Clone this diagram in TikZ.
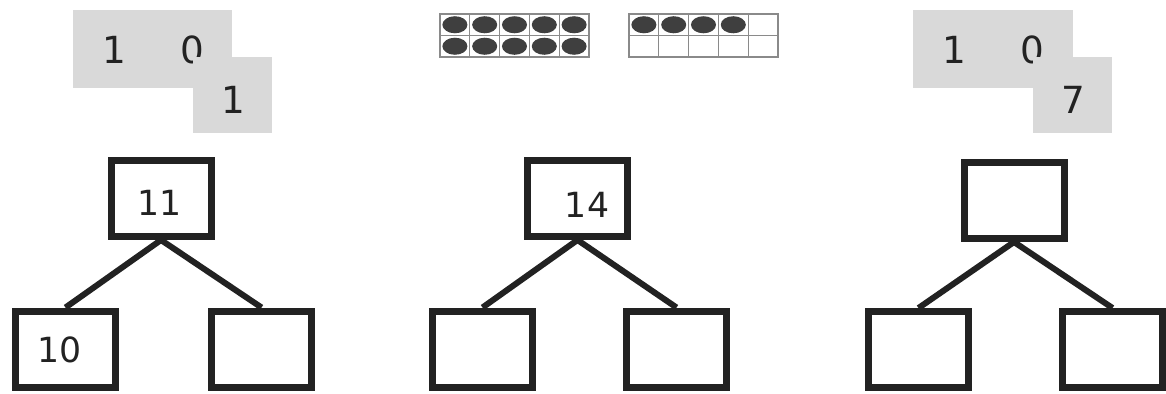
\documentclass[tikz,border=0pt]{standalone}
\usepackage{fontspec}
\setmainfont{DejaVu Sans}
\usepackage{tikz}

\definecolor{ink}{HTML}{222222}
\definecolor{chip}{HTML}{D9D9D9}
\definecolor{dotc}{HTML}{3F3F3F}
\definecolor{cellc}{HTML}{8A8A8A}

\begin{document}
\begin{tikzpicture}[x=0.75pt,y=-0.75pt,
  bondbox/.style={draw=ink,line width=5.25pt,fill=white,minimum width=75pt,minimum height=57pt,inner sep=0pt},
  bond/.style={draw=ink,line width=4.5pt},
  treenum/.style={text=ink,font=\fontsize{26}{26}\selectfont,inner sep=0pt},
  chipnum/.style={text=ink,font=\fontsize{28}{28}\selectfont,inner sep=0pt},
  cell/.style={draw=cellc,line width=0.8pt}]
\useasboundingbox (0,0) rectangle (1166,393);

% place value chips
\fill[chip] (73,10) rectangle (232,88);
\node[chipnum] (a1) at (114,50) {1};
\node[chipnum] (a0) at (192,50) {0};
\fill[chip] (193,57) rectangle (272,133);
\node[chipnum] (aone) at (233,100) {1};

\fill[chip] (913,10) rectangle (1073,88);
\node[chipnum] (c1) at (954,50) {1};
\node[chipnum] (c0) at (1032,50) {0};
\fill[chip] (1033,57) rectangle (1112,133);
\node[chipnum] (cseven) at (1073,100) {7};

% ten frames
\foreach \fx in {440,629} {
  \foreach \c in {0,...,4} {
    \foreach \r in {0,1} {
      \draw[cell] (\fx+\c*29.8,14+\r*21.5) rectangle ++(29.8,21.5);
    }
  }
}
\foreach \c in {0,...,4} {
  \foreach \r in {0,1} {
    \fill[dotc] (440+14.9+\c*29.8,24.75+\r*21.5) ellipse (9.4pt and 6.4pt);
  }
}
\foreach \c in {0,...,3} {
  \fill[dotc] (629+14.9+\c*29.8,24.75) ellipse (9.4pt and 6.4pt);
}

% number bonds
\node[bondbox] (top1) at (161,198.5) {};
\node[bondbox] (left1) at (65.5,349) {};
\node[bondbox] (right1) at (261.5,349) {};
\draw[bond] (top1.south) -- (left1.north);
\draw[bond] (top1.south) -- (right1.north);
\node[treenum] (n11) at (160,203) {11};
\node[treenum] (n10) at (60,350) {10};

\node[bondbox] (top2) at (577.5,198.5) {};
\node[bondbox] (left2) at (482.5,349) {};
\node[bondbox] (right2) at (676.5,349) {};
\draw[bond] (top2.south) -- (left2.north);
\draw[bond] (top2.south) -- (right2.north);
\node[treenum] (n14) at (587,205) {14};

\node[bondbox] (top3) at (1014,200.5) {};
\node[bondbox] (left3) at (918.5,349.5) {};
\node[bondbox] (right3) at (1112.5,349.5) {};
\draw[bond] (top3.south) -- (left3.north);
\draw[bond] (top3.south) -- (right3.north);
\end{tikzpicture}
\end{document}
